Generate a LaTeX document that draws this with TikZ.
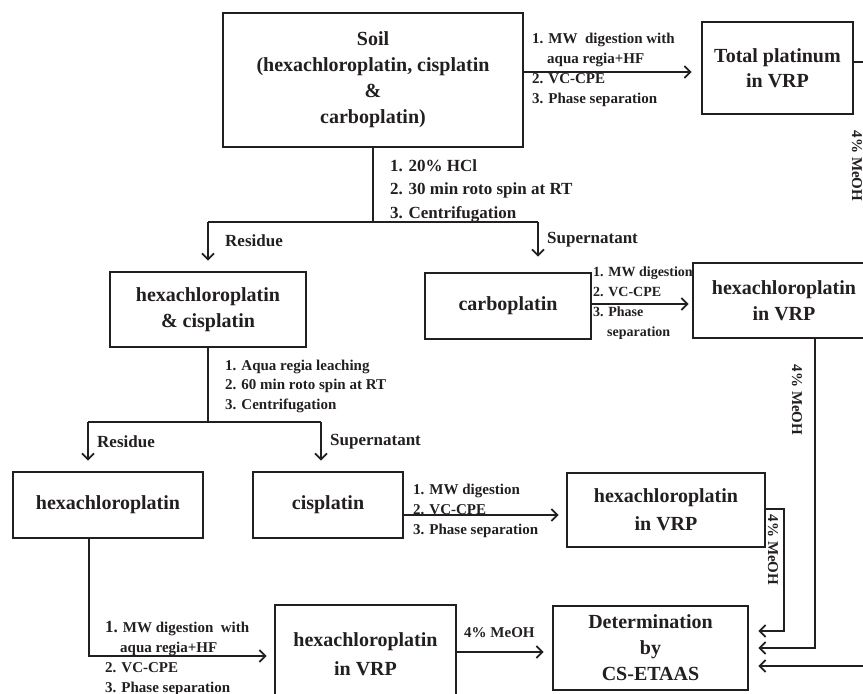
\documentclass[tikz,border=0pt]{standalone}
\usepackage{fontspec}
\setmainfont{Liberation Serif}
\usetikzlibrary{arrows.meta,calc}
\definecolor{ink}{HTML}{231F20}
\newcommand\myfs[2]{\fontsize{#1}{#2}\selectfont\bfseries}
\begin{document}
\begin{tikzpicture}[x=1pt,y=-1pt,
  box/.style={draw=ink, line width=2.6pt, fill=white, inner sep=0pt, align=center, text=ink, font=\myfs{20}{26}},
  conn/.style={draw=ink, line width=1.8pt},
  arr/.style={conn, -{Straight Barb[length=6pt,width=12pt,line width=1.8pt]}},
  lbl/.style={inner sep=0pt, text=ink, align=left, anchor=north west},
  tag/.style={inner sep=0pt, text=ink, anchor=west, font=\myfs{17}{20}},
  meoh/.style={inner sep=0pt, text=ink, font=\myfs{15}{18}}
]
\useasboundingbox (0,0) rectangle (863,694);
\clip (0,0) rectangle (863,694);

% boxes
\node[box, minimum width=300pt, minimum height=134pt] (soil) at (373,80)
  {Soil\\(hexachloroplatin, cisplatin\\\&\\carboplatin)};
\node[box, minimum width=151pt, minimum height=92pt, font=\myfs{20}{25}] (total) at (777.5,68)
  {Total platinum\\in VRP};
\node[box, minimum width=196pt, minimum height=75pt] (hc) at (208,309.5)
  {hexachloroplatin\\\& cisplatin};
\node[box, minimum width=166pt, minimum height=66pt] (carbo) at (508,306) {carboplatin};
\node[box, minimum width=182pt, minimum height=75pt] (hvrp1) at (784,300.5)
  {hexachloroplatin\\in VRP};
\node[box, minimum width=190pt, minimum height=66pt] (hexa) at (108,505) {hexachloroplatin};
\node[box, minimum width=150pt, minimum height=66pt] (cis) at (328,505) {cisplatin};
\node[box, minimum width=198pt, minimum height=74pt, font=\myfs{20}{28}] (hvrp2) at (666,510)
  {hexachloroplatin\\in VRP};
\node[box, minimum width=181pt, minimum height=98pt, font=\myfs{20}{29}] (hvrp3) at (365.5,654)
  {hexachloroplatin\\in VRP};
\node[box, minimum width=195pt, minimum height=84pt] (det) at (650.5,648)
  {Determination\\by\\CS-ETAAS};

% junction coordinates
\coordinate (j1) at (373,222);
\coordinate (jl) at (208,222);
\coordinate (jr) at (538,222);
\coordinate (j2) at (208,422);
\coordinate (j2l) at (88,422);
\coordinate (j2r) at (321,422);

% soil split
\draw[conn] (soil.south) -- (j1);
\draw[conn] (jl) -- (jr);
\draw[arr, shorten >=10pt] (jl) -- (hc.north);
\draw[arr, shorten >=15pt] (jr) -- (carbo.north -| jr);

% hc split
\draw[conn] (hc.south) -- (j2);
\draw[conn] (j2l) -- (j2r);
\draw[arr, shorten >=10pt] (j2l) -- (hexa.north -| j2l);
\draw[arr, shorten >=10pt] (j2r) -- (cis.north -| j2r);

% horizontal arrows
\draw[arr, shorten >=9pt] (soil.east |- 0,72) -- (total.west |- 0,72);
\draw[arr, shorten >=3pt] (carbo.east |- 0,304) -- (hvrp1.west |- 0,304);
\draw[arr, shorten >=7pt] (cis.east |- 0,515) -- (hvrp2.west |- 0,515);
\draw[arr, shorten >=7pt] (hexa.south -| 89,0) -- (89,656) -- (hvrp3.west |- 0,656);
\draw[arr, shorten >=8pt] (hvrp3.east |- 0,652) -- (det.west |- 0,652);

% to determination
\draw[arr, shorten >=9pt] (hvrp2.east |- 0,509) -- (784,509) -- (784,631) -- (det.east |- 0,631);
\draw[arr, shorten >=9pt] (hvrp1.south -| 815,0) -- (815,648) -- (det.east |- 0,648);
\draw[arr, shorten >=9pt] (total.east |- 0,62) -- (872,62) -- (872,666) -- (det.east |- 0,666);

% step labels
\node[lbl, font=\myfs{15}{20}] (t1) at (532,32.6)
  {1. MW\ \ digestion with\\\hspace*{15pt}aqua regia+HF\\2. VC-CPE\\3. Phase separation};
\node[lbl, font=\myfs{17}{23.5}] (t2) at (390,159)
  {1. 20\% HCl\\2. 30 min roto spin at RT\\3. Centrifugation};
\node[tag] (r1) at (225,241) {Residue};
\node[tag] (s1) at (547,240) {Supernatant};
\node[lbl, font=\myfs{14}{20}] (t3) at (593,267)
  {1. MW digestion\\2. VC-CPE\\3. Phase\\\hspace*{14pt}separation};
\node[lbl, font=\myfs{15}{19.5}] (t4) at (225,359.6)
  {1. Aqua regia leaching\\2. 60 min roto spin at RT\\3. Centrifugation};
\node[tag] (r2) at (97,442) {Residue};
\node[tag] (s2) at (330,442) {Supernatant};
\node[lbl, font=\myfs{15}{20}] (t5) at (413,483.6)
  {1. MW digestion\\2. VC-CPE\\3. Phase separation};
\node[lbl, font=\myfs{15}{20}] (t6) at (105,621)
  {{\fontsize{17}{20}\selectfont 1.} MW digestion\ \ with\\\hspace*{15pt}aqua regia+HF\\2. VC-CPE\\3. Phase separation};

% MeOH labels
\node[meoh, anchor=west] (m1) at (464,633) {4\% MeOH};
\node[meoh, rotate=-90] (m2) at (773,550) {4\% MeOH};
\node[meoh, rotate=-90] (m3) at (797,400) {4\% MeOH};
\node[meoh, rotate=-90] (m4) at (857,166) {4\% MeOH};
\end{tikzpicture}
\end{document}
